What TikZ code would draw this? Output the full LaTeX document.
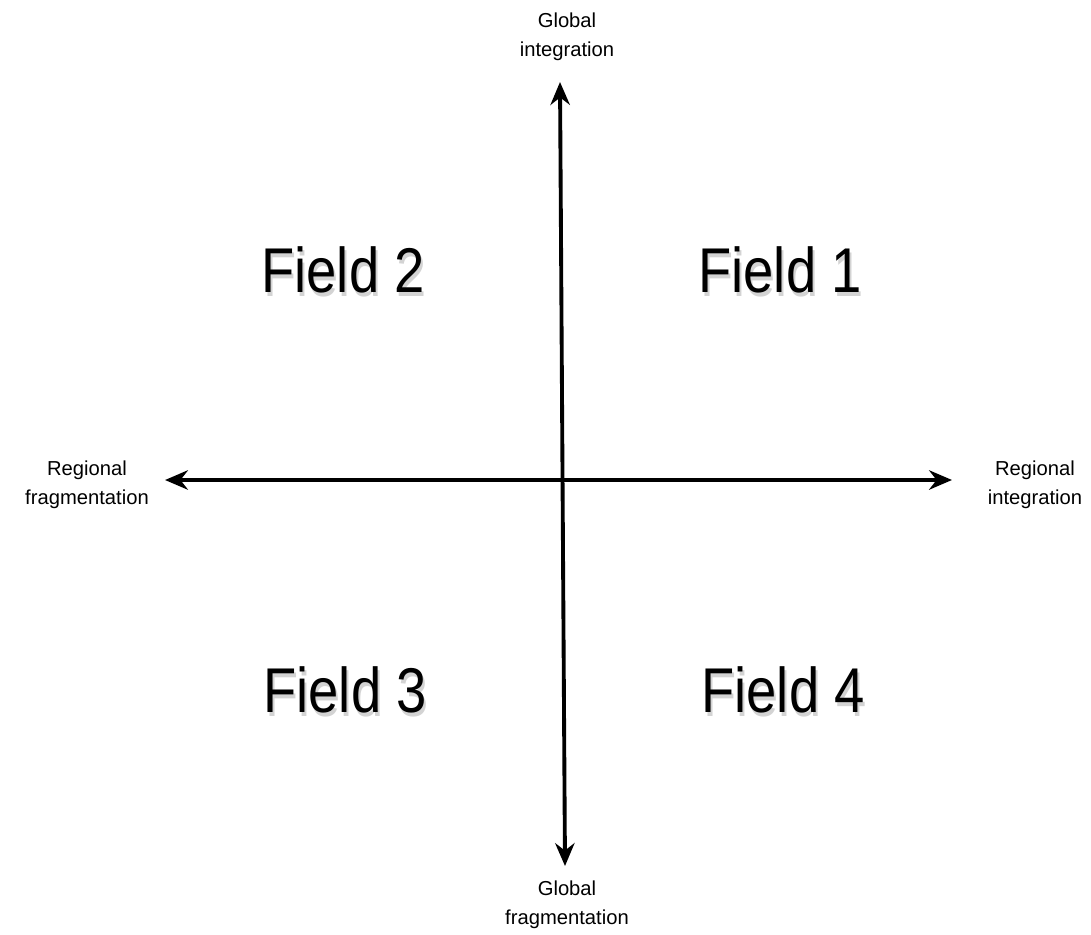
\documentclass[tikz,border=0pt]{standalone}
\usepackage{fontspec}
\setmainfont{Liberation Sans}
\newfontfamily\fieldfont[FakeStretch=0.86]{Liberation Sans}
\usetikzlibrary{arrows.meta}
\definecolor{shadowgray}{HTML}{A8A8A8}

\begin{document}
\begin{tikzpicture}[
      x=0.02cm, y=-0.02cm,
      every node/.style={font=\fontsize{11.5}{16.5}\selectfont},
      axislabel/.style={align=center, inner sep=0pt},
      field/.style={font=\fieldfont\fontsize{36}{40}\selectfont, inner sep=0pt},
      fieldshadow/.style={field, text=shadowgray, opacity=0.5},
      axis/.style={line width=2.2pt, {Stealth[length=13pt,width=11pt]}-{Stealth[length=13pt,width=11pt]}},
    ]
    \useasboundingbox (0,0) rectangle (1091,934);

    % axis ends
    \coordinate (top)    at (560, 82);
    \coordinate (bottom) at (565, 866);
    \coordinate (left)   at (165, 480);
    \coordinate (right)  at (952, 480);

    \draw[axis] (bottom) -- (top);
    \draw[axis] (left) -- (right);

    % axis labels
    \node[axislabel] (gint)  at (567, 37)  {Global\\integration};
    \node[axislabel] (gfrag) at (567, 905) {Global\\fragmentation};
    \node[axislabel] (rfrag) at (87, 485)  {Regional\\fragmentation};
    \node[axislabel] (rint)  at (1035, 485) {Regional\\integration};

    % fields, with a soft shadow
    \foreach \name/\txt/\px/\py in {f2/Field 2/343/270, f1/Field 1/780/270,
                                    f3/Field 3/345/690, f4/Field 4/783/690} {
      \node[fieldshadow] (\name s) at (\px+2, \py+4) {\txt};
      \node[field]       (\name)   at (\px, \py)     {\txt};
    }
  \end{tikzpicture}
\end{document}
